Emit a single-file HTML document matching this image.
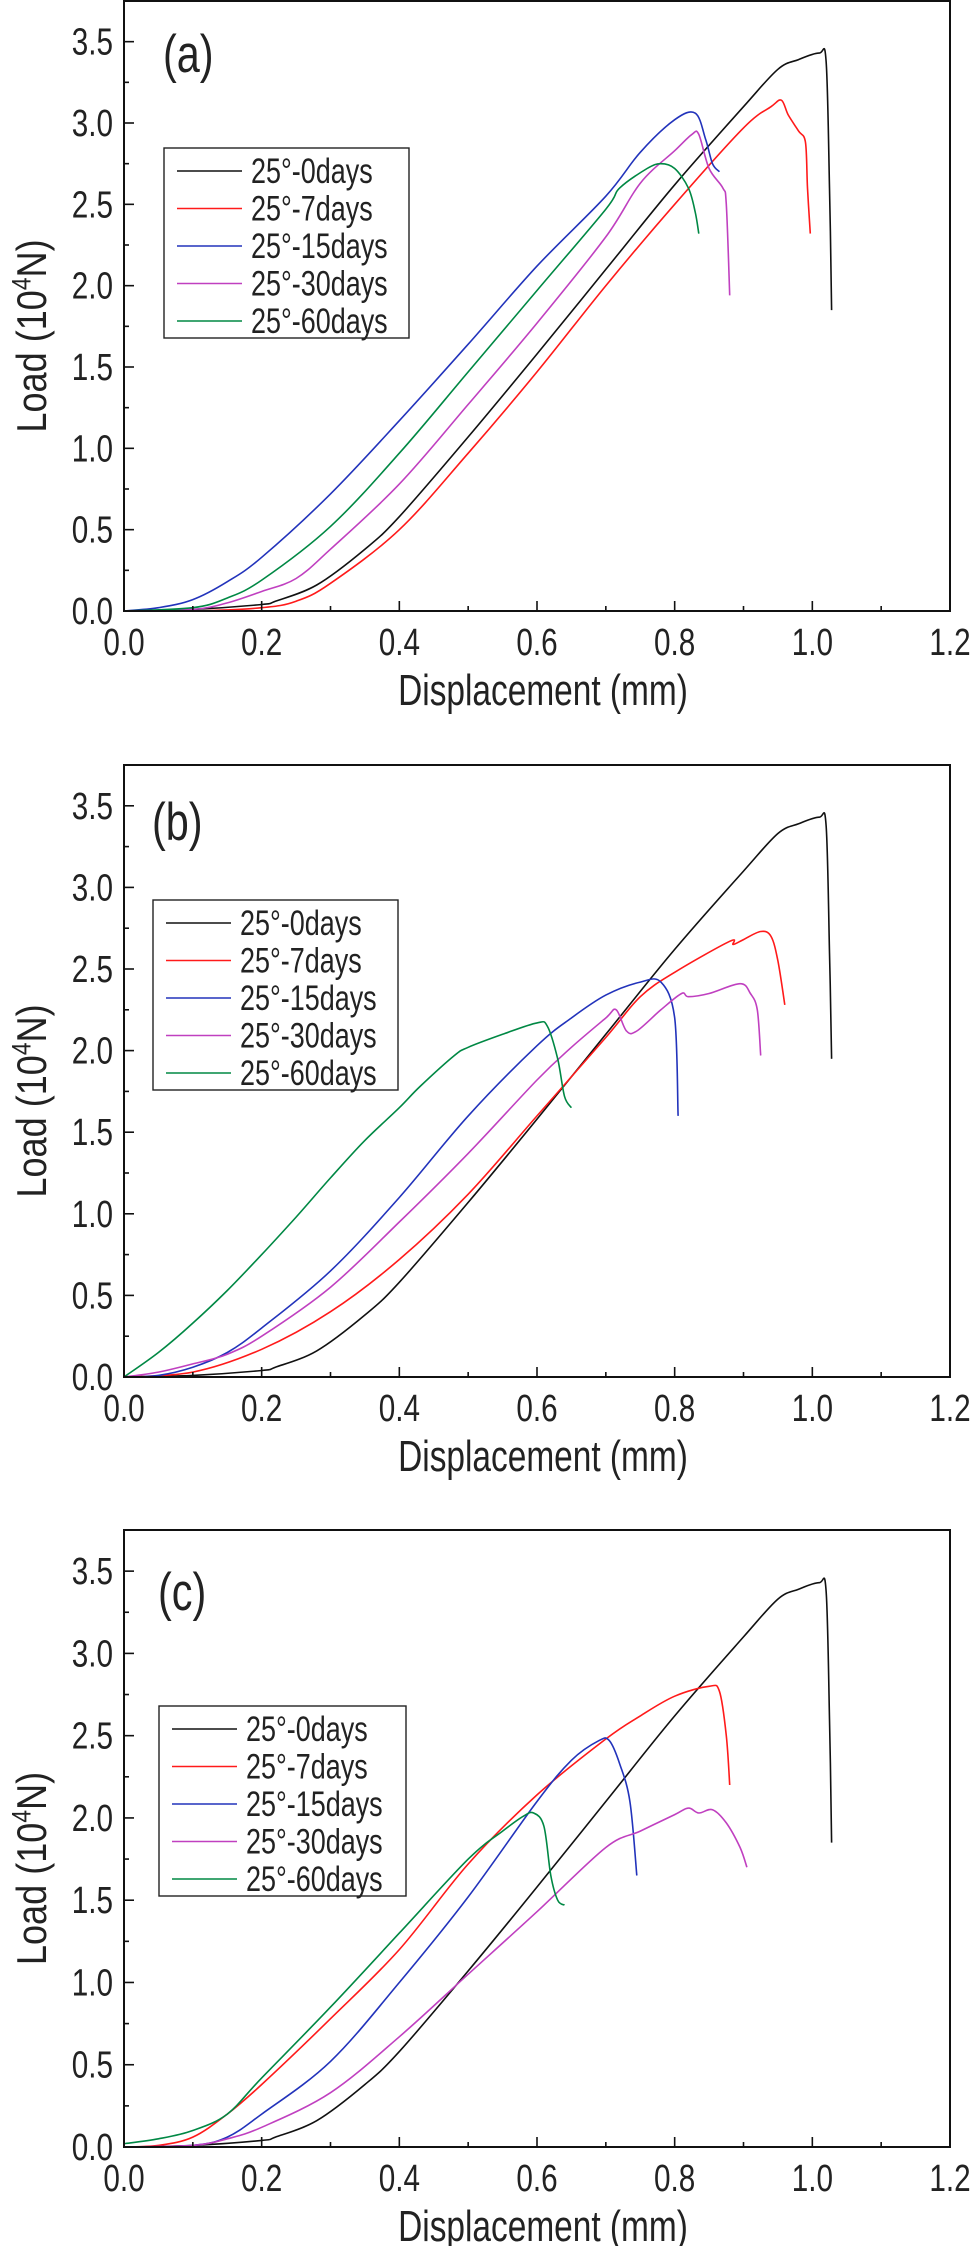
<!DOCTYPE html>
<html><head><meta charset="utf-8"><style>
html,body{margin:0;padding:0;background:#fff}
svg{display:block}
text{font-family:"Liberation Sans",Arial,sans-serif;fill:#222}
</style></head><body>
<svg id="fig" width="971" height="2246" viewBox="0 0 971 2246" xmlns="http://www.w3.org/2000/svg"></svg>
<script>
const seriesNames = ["25°-0days","25°-7days","25°-15days","25°-30days","25°-60days"];
const seriesColors = ["#111111","#ff1a1a","#2233bb","#c040c0","#008844"];
const panelLabels = ["(a)","(b)","(c)"];
const xTicks = [0,0.2,0.4,0.6,0.8,1.0,1.2];
const xTickLabels = ["0.0","0.2","0.4","0.6","0.8","1.0","1.2"];
const yTicks = [0,0.5,1.0,1.5,2.0,2.5,3.0,3.5];
const yTickLabels = ["0.0","0.5","1.0","1.5","2.0","2.5","3.0","3.5"];

const black0 = [[0,0],[0.1,0.01],[0.2,0.04],[0.22,0.06],[0.28,0.16],[0.35,0.38],[0.4,0.58],[0.5,1.07],[0.6,1.58],[0.7,2.1],[0.8,2.62],[0.9,3.1],[0.95,3.33],[0.98,3.39],[1.01,3.43],[1.02,3.38],[1.025,2.6],[1.028,1.85]];
const aRed = [[0,0],[0.1,0],[0.2,0.02],[0.25,0.06],[0.3,0.17],[0.4,0.5],[0.5,0.97],[0.6,1.47],[0.7,2.0],[0.8,2.5],[0.9,2.97],[0.94,3.1],[0.955,3.14],[0.965,3.05],[0.98,2.95],[0.99,2.88],[0.993,2.6],[0.997,2.32]];
const aBlue = [[0,0],[0.05,0.02],[0.1,0.07],[0.15,0.18],[0.2,0.33],[0.3,0.72],[0.4,1.17],[0.5,1.64],[0.6,2.12],[0.7,2.55],[0.75,2.82],[0.8,3.02],[0.83,3.06],[0.845,2.9],[0.855,2.75],[0.865,2.7]];
const aMag = [[0,0],[0.1,0.01],[0.15,0.05],[0.2,0.12],[0.25,0.2],[0.3,0.38],[0.4,0.78],[0.5,1.27],[0.6,1.77],[0.7,2.3],[0.75,2.63],[0.8,2.83],[0.825,2.93],[0.835,2.93],[0.85,2.72],[0.87,2.6],[0.875,2.5],[0.88,1.94]];
const aGreen = [[0,0],[0.1,0.02],[0.15,0.08],[0.2,0.19],[0.3,0.52],[0.4,0.97],[0.5,1.47],[0.6,1.97],[0.7,2.47],[0.72,2.6],[0.76,2.72],[0.78,2.75],[0.8,2.72],[0.82,2.6],[0.83,2.45],[0.835,2.32]];

const bBlack = [[0,0],[0.1,0.01],[0.2,0.04],[0.22,0.06],[0.28,0.16],[0.35,0.38],[0.4,0.58],[0.5,1.07],[0.6,1.58],[0.7,2.1],[0.8,2.62],[0.9,3.1],[0.95,3.33],[0.98,3.39],[1.01,3.43],[1.02,3.38],[1.025,2.6],[1.028,1.95]];
const bRed = [[0,0],[0.1,0.03],[0.2,0.17],[0.3,0.4],[0.4,0.72],[0.5,1.12],[0.6,1.6],[0.7,2.08],[0.75,2.33],[0.8,2.48],[0.88,2.67],[0.885,2.65],[0.9,2.68],[0.925,2.73],[0.94,2.7],[0.95,2.55],[0.96,2.28]];
const bBlue = [[0,0],[0.05,0.01],[0.1,0.06],[0.15,0.15],[0.2,0.3],[0.3,0.65],[0.4,1.1],[0.5,1.6],[0.6,2.03],[0.65,2.2],[0.7,2.34],[0.75,2.42],[0.78,2.42],[0.8,2.2],[0.805,1.6]];
const bMag = [[0,0],[0.05,0.03],[0.1,0.08],[0.15,0.14],[0.2,0.25],[0.3,0.55],[0.4,0.95],[0.5,1.37],[0.6,1.82],[0.65,2.02],[0.7,2.2],[0.715,2.25],[0.73,2.12],[0.745,2.12],[0.78,2.25],[0.81,2.35],[0.82,2.33],[0.85,2.35],[0.895,2.41],[0.91,2.35],[0.92,2.25],[0.925,1.97]];
const bGreen = [[0,0],[0.05,0.15],[0.1,0.33],[0.15,0.53],[0.2,0.75],[0.25,0.98],[0.3,1.22],[0.35,1.45],[0.4,1.65],[0.43,1.78],[0.48,1.97],[0.5,2.02],[0.55,2.1],[0.6,2.17],[0.615,2.15],[0.63,1.95],[0.64,1.72],[0.65,1.65]];

const cBlack = [[0,0],[0.1,0.01],[0.2,0.04],[0.22,0.06],[0.28,0.16],[0.35,0.38],[0.4,0.58],[0.5,1.07],[0.6,1.58],[0.7,2.1],[0.8,2.62],[0.9,3.1],[0.95,3.33],[0.98,3.39],[1.01,3.43],[1.02,3.38],[1.025,2.6],[1.028,1.85]];
const cRed = [[0,0],[0.05,0.01],[0.1,0.06],[0.15,0.2],[0.2,0.38],[0.3,0.78],[0.4,1.2],[0.5,1.72],[0.6,2.14],[0.7,2.48],[0.75,2.62],[0.8,2.74],[0.85,2.8],[0.865,2.77],[0.875,2.5],[0.88,2.2]];
const cBlue = [[0,0],[0.1,0.01],[0.15,0.06],[0.2,0.2],[0.3,0.52],[0.4,1.0],[0.5,1.52],[0.6,2.1],[0.65,2.35],[0.69,2.47],[0.705,2.47],[0.72,2.33],[0.735,2.1],[0.745,1.65]];
const cMag = [[0,0],[0.1,0.01],[0.15,0.05],[0.2,0.12],[0.3,0.33],[0.4,0.67],[0.5,1.05],[0.6,1.43],[0.7,1.82],[0.75,1.92],[0.8,2.02],[0.82,2.06],[0.835,2.03],[0.855,2.05],[0.875,1.97],[0.895,1.82],[0.905,1.7]];
const cGreen = [[0,0.02],[0.05,0.05],[0.1,0.1],[0.15,0.2],[0.2,0.42],[0.3,0.85],[0.4,1.3],[0.5,1.75],[0.55,1.92],[0.58,2.01],[0.595,2.03],[0.61,1.95],[0.62,1.65],[0.63,1.5],[0.64,1.47]];

const panelSeries = [[black0,aRed,aBlue,aMag,aGreen],[bBlack,bRed,bBlue,bMag,bGreen],[cBlack,cRed,cBlue,cMag,cGreen]];

const NS = "http://www.w3.org/2000/svg";
const svg = document.getElementById("fig");
function mk(tag, attrs, parent){const e=document.createElementNS(NS,tag);for(const k in attrs)e.setAttribute(k,attrs[k]);(parent||svg).appendChild(e);return e;}
function txt(parent,s,x,y,size,anchor,sx,sy){const t=mk("text",{x:0,y:0,"font-size":size,"text-anchor":anchor,transform:`translate(${x},${y}) scale(${sx},${sy||1.1})`},parent);t.textContent=s;return t;}
function smooth(P){
  let d="M"+P[0][0].toFixed(1)+","+P[0][1].toFixed(1);
  for(let i=0;i<P.length-1;i++){
    const p0=P[Math.max(0,i-1)],p1=P[i],p2=P[i+1],p3=P[Math.min(P.length-1,i+2)];
    const t=1/6;
    const c1=[p1[0]+(p2[0]-p0[0])*t,p1[1]+(p2[1]-p0[1])*t];
    const c2=[p2[0]-(p3[0]-p1[0])*t,p2[1]-(p3[1]-p1[1])*t];
    d+="C"+c1[0].toFixed(1)+","+c1[1].toFixed(1)+" "+c2[0].toFixed(1)+","+c2[1].toFixed(1)+" "+p2[0].toFixed(1)+","+p2[1].toFixed(1);
  }
  return d;
}

const layouts = [
  {top:1,bottom:611,legTop:148,legLeft:164,legRight:409,labX:163,labY:72,id:"a"},
  {top:765,bottom:1377,legTop:900,legLeft:153,legRight:398,labX:152,labY:840,id:"b"},
  {top:1530,bottom:2147,legTop:1706,legLeft:159,legRight:406,labX:158,labY:1610,id:"c"}
];
const L=124,R=950,XMAX=1.2,YMAX=3.75;

layouts.forEach((lay,pi)=>{
  const g=mk("g",{});
  
  
  const xs=v=>L+v/XMAX*(R-L);
  const ys=v=>lay.bottom-v/YMAX*(lay.bottom-lay.top);
  panelSeries[pi].forEach((pts,si)=>{
    const p=mk("path",{d:smooth(pts.map(q=>[xs(q[0]),ys(q[1])])),fill:"none",stroke:seriesColors[si],"stroke-width":1.6,"stroke-linejoin":"round"},g);
    
    
  });
  const fr=mk("rect",{x:L,y:lay.top,width:R-L,height:lay.bottom-lay.top,fill:"none",stroke:"#111","stroke-width":2},g);
  
  
  for(let k=1;k<12;k++){
    const v=k*0.1;const major=k%2===0;
    mk("line",{x1:xs(v),x2:xs(v),y1:lay.bottom,y2:lay.bottom-(major?10:5),stroke:"#111","stroke-width":1.6},g);
  }
  xTicks.forEach((v,i)=>{
    const t=txt(g,xTickLabels[i],xs(v),lay.bottom+44,33,"middle",0.9,1.15);
    
    
  });
  for(let k=1;k<15;k++){
    const v=k*0.25;const major=k%2===0;
    mk("line",{x1:L,x2:L+(major?10:5),y1:ys(v),y2:ys(v),stroke:"#111","stroke-width":1.6},g);
  }
  yTicks.forEach((v,i)=>{
    const t=txt(g,yTickLabels[i],113,ys(v)+13,33,"end",0.9,1.15);
    
    
  });
  const xt=txt(g,"Displacement (mm)",543,lay.bottom+94,38,"middle",0.88,1.15);
  
  
  const cy=(lay.top+lay.bottom)/2+30;
  const yt=mk("text",{x:0,y:0,"font-size":38,"text-anchor":"middle",transform:`translate(46,${cy}) rotate(-90) scale(0.95,1.1)`},g);
  
  
  yt.innerHTML='Load (10<tspan dy="-14" font-size="24">4</tspan><tspan dy="14">N)</tspan>';
  const pl=txt(g,panelLabels[pi],lay.labX,lay.labY,46,"start",0.9,1.15);
  
  
  const lg=mk("g",{},g);
  
  
  mk("rect",{x:lay.legLeft,y:lay.legTop,width:lay.legRight-lay.legLeft,height:190,fill:"#fff",stroke:"#222","stroke-width":1.4},lg);
  seriesNames.forEach((n,si)=>{
    const ry=lay.legTop+23+si*37.5;
    const e=mk("g",{},lg);
    
    
    mk("line",{x1:lay.legLeft+13,x2:lay.legLeft+78,y1:ry,y2:ry,stroke:seriesColors[si],"stroke-width":1.6},e);
    txt(e,n,lay.legLeft+87,ry+12,31,"start",0.87,1.15);
  });
});
</script>
</body></html>
